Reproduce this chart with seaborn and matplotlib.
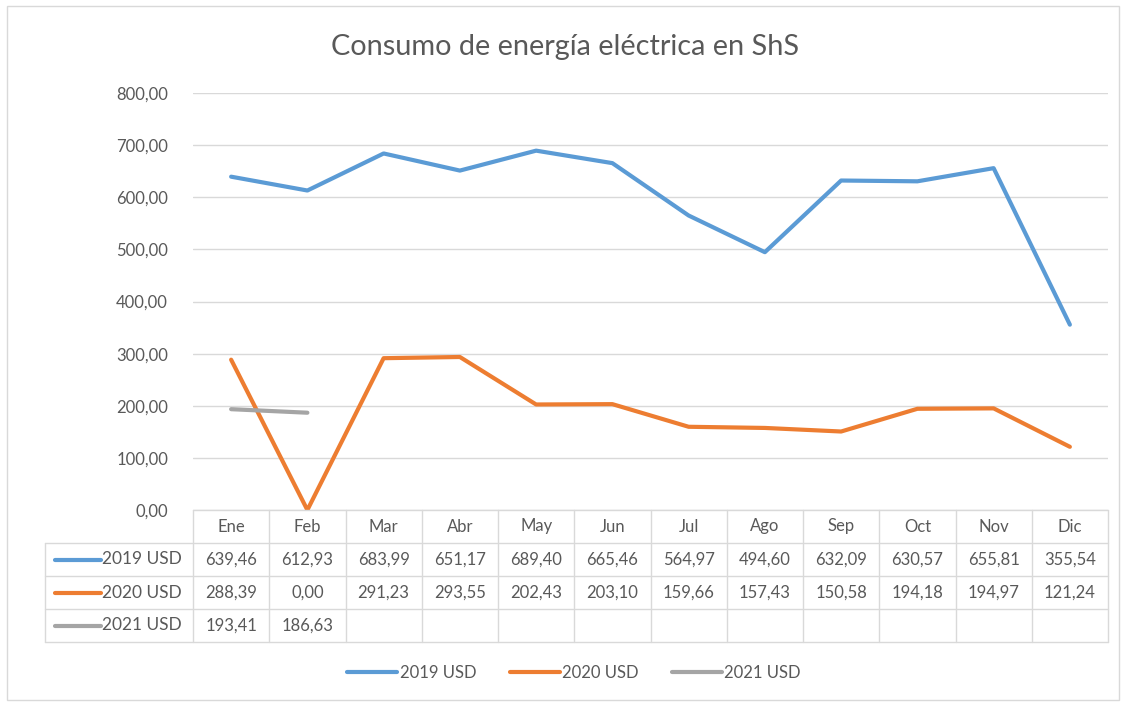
import numpy as np
import pandas as pd
import seaborn as sns
from matplotlib import pyplot as plt
from matplotlib.ticker import FuncFormatter
from matplotlib.patches import Rectangle
from matplotlib.lines import Line2D

# datos
meses = ["Ene", "Feb", "Mar", "Abr", "May", "Jun", "Jul", "Ago", "Sep", "Oct", "Nov", "Dic"]
usd_2019 = [639.46, 612.93, 683.99, 651.17, 689.40, 665.46, 564.97, 494.60, 632.09, 630.57, 655.81, 355.54]
usd_2020 = [288.39, 0.00, 291.23, 293.55, 202.43, 203.10, 159.66, 157.43, 150.58, 194.18, 194.97, 121.24]
usd_2021 = [193.41, 186.63]
series = ["2019 USD", "2020 USD", "2021 USD"]
colores = ["#5B9BD5", "#ED7D31", "#A5A5A5"]
y_ticks = [0, 100, 200, 300, 400, 500, 600, 700, 800]

valores = [usd_2019, usd_2020, usd_2021]
df = pd.concat([pd.DataFrame({"pos": range(len(v)), "mes": meses[:len(v)], "usd": v, "serie": s})
                for s, v in zip(series, valores)], ignore_index=True)

sns.set_style("white")
plt.rcParams['font.family'] = ['Lato', 'DejaVu Sans']
gris = "#595959"
borde = "#D9D9D9"

fig = plt.figure(figsize=(11.28, 7.04), dpi=100)
ax = fig.add_axes([193 / 1128, 1 - 510 / 704, 915 / 1128, 417 / 704])

sns.lineplot(data=df, x="pos", y="usd", hue="serie", palette=dict(zip(series, colores)),
             linewidth=3, legend=False, ax=ax, sort=False)

ax.set_xlim(-0.5, len(meses) - 0.5)
ax.set_ylim(0, 800)
ax.set_yticks(y_ticks)
ax.yaxis.set_major_formatter(FuncFormatter(lambda v, p: f"{v:.2f}".replace(".", ",")))
ax.tick_params(axis="y", length=0, pad=18, labelsize=12, labelcolor=gris)
ax.set_xticks([])
ax.set_xlabel("")
ax.set_ylabel("")
ax.grid(axis="y", color=borde, linewidth=1)
for sp in ax.spines.values():
    sp.set_visible(False)

# tabla de datos debajo del eje
h = 33 / 417
tr = ax.get_xaxis_transform()
x_izq = (45 - 193) / 915
for i in range(len(meses) + 1):
    ax.add_line(Line2D([i - 0.5, i - 0.5], [0, -4 * h], transform=tr, color=borde, lw=1, clip_on=False))
ax.add_line(Line2D([x_izq, x_izq], [-h, -4 * h], transform=ax.transAxes, color=borde, lw=1, clip_on=False))
for r in range(1, 5):
    ax.add_line(Line2D([x_izq, 1], [-r * h, -r * h], transform=ax.transAxes, color=borde, lw=1, clip_on=False))
ax.add_line(Line2D([0, 1], [0, 0], transform=ax.transAxes, color=borde, lw=1, clip_on=False))

for i, m in enumerate(meses):
    ax.text(i, -0.5 * h, m, transform=tr, ha="center", va="center", fontsize=12, color=gris)
for r, (s, v, c) in enumerate(zip(series, valores, colores)):
    yc = -(r + 1.5) * h
    ax.add_line(Line2D([(55 - 193) / 915, (101 - 193) / 915], [yc, yc], transform=ax.transAxes,
                       color=c, lw=3, clip_on=False))
    ax.text((102 - 193) / 915, yc, s, transform=ax.transAxes, ha="left", va="center", fontsize=12.5, color=gris)
    for i, val in enumerate(v):
        ax.text(i, yc, f"{val:.2f}".replace(".", ","), transform=tr, ha="center", va="center",
                fontsize=12, color=gris)

# leyenda
handles = [Line2D([], [], color=c, lw=3) for c in colores]
fig.legend(handles, series, loc="center", bbox_to_anchor=(574 / 1128, 1 - 673 / 704), ncol=3,
           frameon=False, fontsize=12, labelcolor=gris, handlelength=3.0, handletextpad=0.15,
           columnspacing=2.0)

fig.text(565 / 1128, 1 - 47 / 704, "Consumo de energía eléctrica en ShS", ha="center", va="center",
         fontsize=20.8, color=gris)

fig.patches.append(Rectangle((7 / 1128, 4 / 704), 1112 / 1128, 694 / 704, transform=fig.transFigure,
                             fill=False, edgecolor=borde, lw=1))

fig.savefig("out.png", dpi=100)
